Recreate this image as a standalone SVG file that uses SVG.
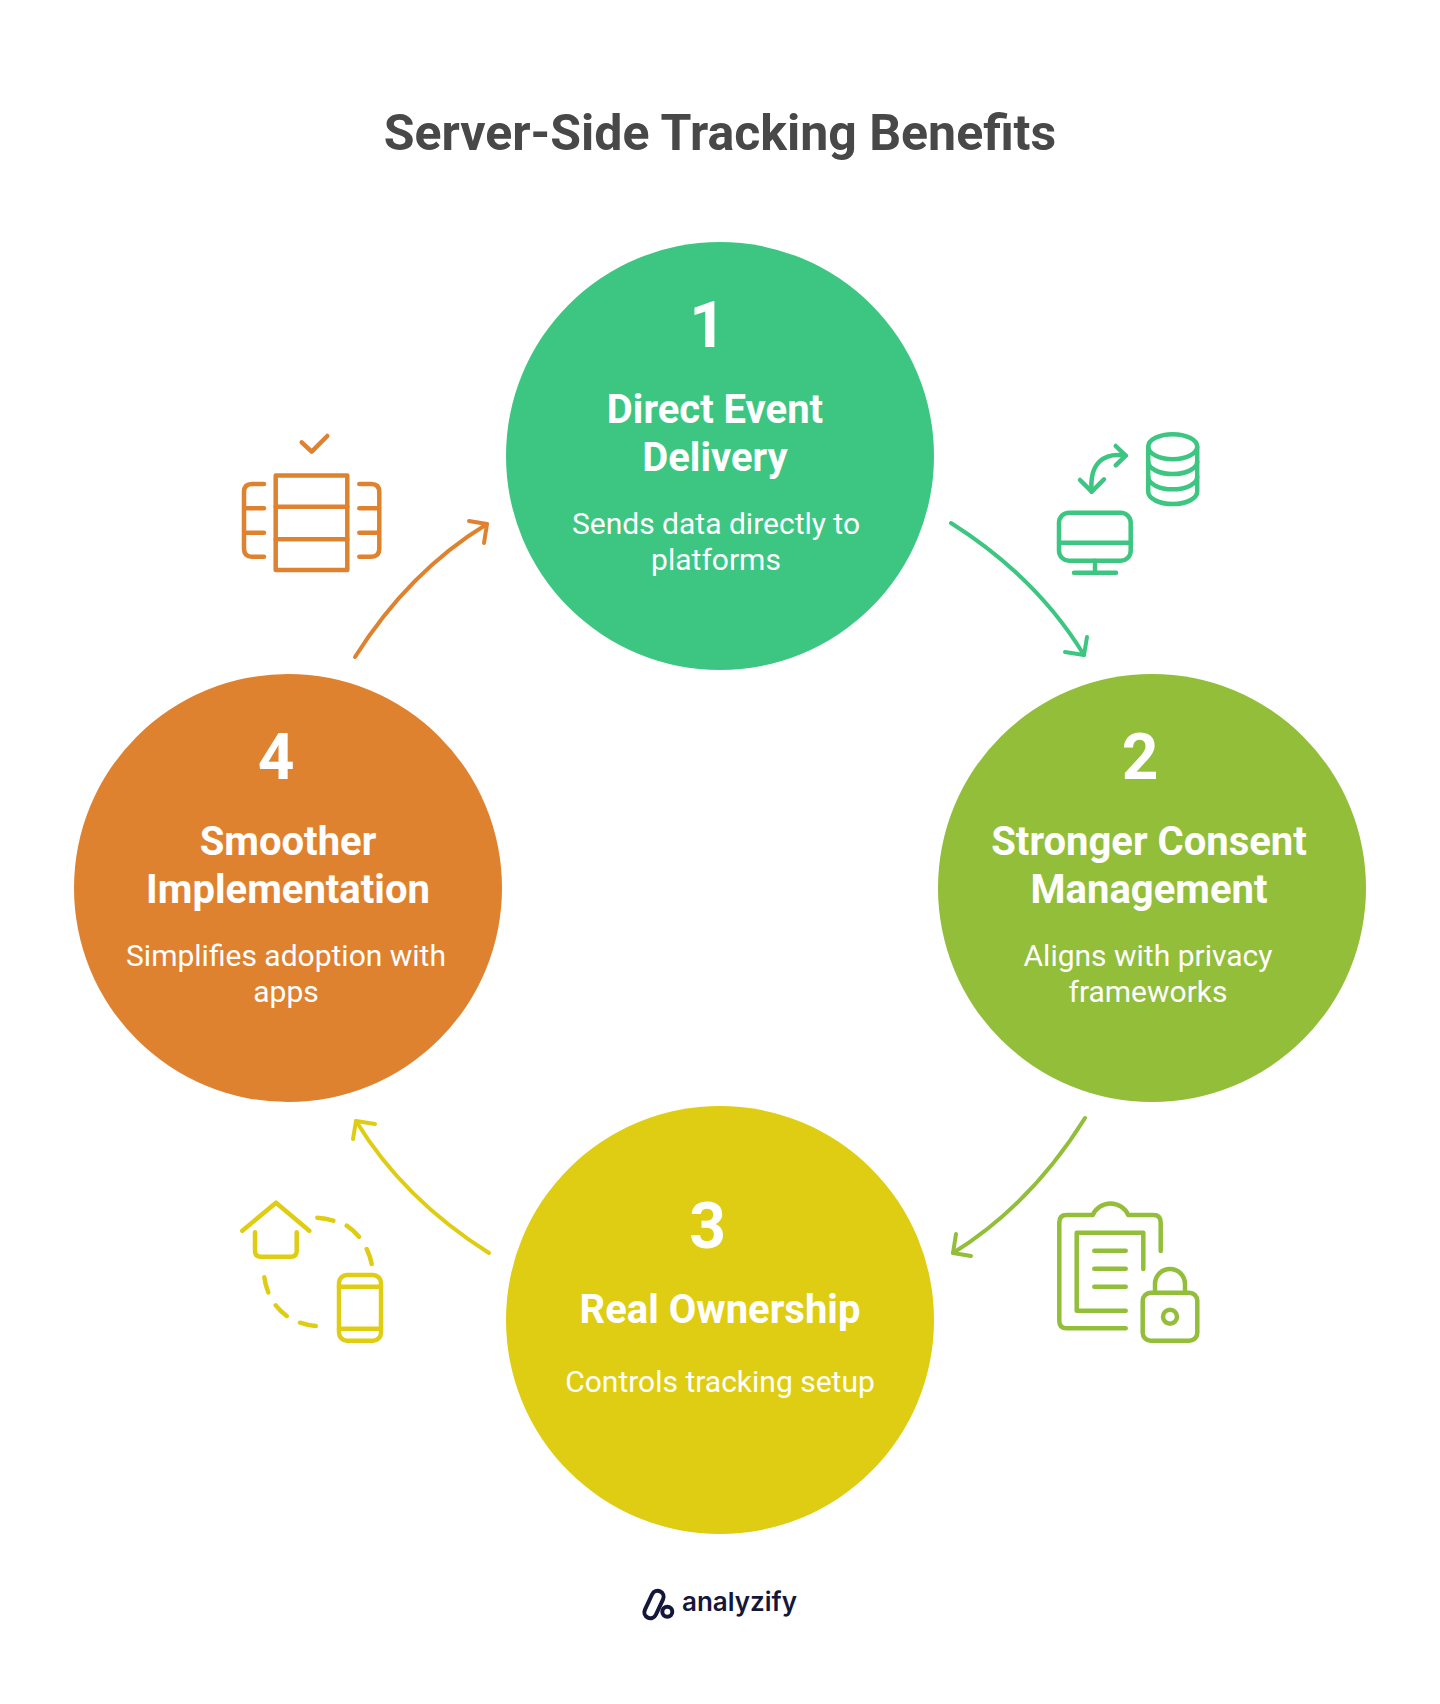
<svg xmlns="http://www.w3.org/2000/svg" width="1440" height="1704" viewBox="0 0 1440 1704">
<style>
text{font-family:Roboto,"Liberation Sans",sans-serif;text-anchor:middle}
.t{font-size:50px;font-weight:700;fill:#484848}
.n{font-size:64px;font-weight:700;fill:#fff}
.h{font-size:40px;font-weight:700;fill:#fff}
.b{font-size:30px;font-weight:400;fill:#fff}
.i,.c{fill:none;stroke-linecap:round;stroke-linejoin:round}
.i{stroke-width:4.500}.c{stroke-width:4}
.green{stroke:#3DC681}.lime{stroke:#92BE3A}.yellow{stroke:#DFCD13}.orange{stroke:#DF8230}
</style>
<rect width="1440" height="1704" fill="#fff"/>
<text class="t" x="720" y="150">Server-Side Tracking Benefits</text>
<g id="connectors">
<g class="c green"><path d="M951 523Q1036.5 577 1084 655"/><path d="M1087 637L1084 655L1065 652"/></g>
<g class="c lime"><path d="M1085 1118Q1031 1204.500 953 1253"/><path d="M971 1256L953 1253L956 1234"/></g>
<g class="c yellow"><path d="M489 1253Q403.500 1199 356 1121"/><path d="M353 1139L356 1121L375 1124"/></g>
<g class="c orange"><path d="M355 657Q409 571.500 487 524"/><path d="M469 521L487 524L484 543"/></g>
</g>
<g id="node-1">
<circle cx="720" cy="456" r="214" fill="#3DC681"/>
<text class="n" x="707.500" y="347">1</text>
<text class="h" x="715" y="423">Direct Event</text>
<text class="h" x="715" y="471">Delivery</text>
<text class="b" x="716" y="534">Sends data directly to</text>
<text class="b" x="716" y="570">platforms</text>
</g>
<g id="node-2">
<circle cx="1152" cy="888" r="214" fill="#92BE3A"/>
<text class="n" x="1140" y="779">2</text>
<text class="h" x="1149" y="855">Stronger Consent</text>
<text class="h" x="1149" y="903">Management</text>
<text class="b" x="1148" y="966">Aligns with privacy</text>
<text class="b" x="1148" y="1002">frameworks</text>
</g>
<g id="node-3">
<circle cx="720" cy="1320" r="214" fill="#DFCD13"/>
<text class="n" x="707.500" y="1248">3</text>
<text class="h" x="720" y="1323">Real Ownership</text>
<text class="b" x="720" y="1392">Controls tracking setup</text>
</g>
<g id="node-4">
<circle cx="288" cy="888" r="214" fill="#DF8230"/>
<text class="n" x="276" y="779">4</text>
<text class="h" x="288" y="855">Smoother</text>
<text class="h" x="288" y="903">Implementation</text>
<text class="b" x="286" y="966">Simplifies adoption with</text>
<text class="b" x="286" y="1002">apps</text>
</g>
<g id="icon-1" class="i green">
<ellipse cx="1172.700" cy="446.700" rx="24.500" ry="12.500"/>
<path d="M1148.200 446.700V491.500C1148.200 498.500 1159 504 1172.700 504S1197.200 498.500 1197.200 491.500V446.700"/>
<path d="M1148.200 461.500C1148.200 468.500 1159 474 1172.700 474S1197.200 468.500 1197.200 461.500"/>
<path d="M1148.200 476.800C1148.200 483.800 1159 489.300 1172.700 489.300S1197.200 483.800 1197.200 476.800"/>
<rect x="1059" y="512.700" width="71.700" height="48" rx="10"/>
<path d="M1059 542.700H1130.700M1095 560.700V572.700M1074 572.700H1116"/>
<path d="M1125.700 455.700C1105 452 1089 462 1091.700 491.700"/>
<path d="M1115.700 446L1125.700 455.700L1115.700 465.300M1080 480L1091.700 491.700L1104 479.300"/>
</g>
<g id="icon-2" class="i lime">
<path d="M1160.700 1251V1222.500Q1160.700 1215 1153.300 1215H1128.300A19.500 19.500 0 0 0 1092.700 1215H1066.700Q1059.300 1215 1059.300 1222.500V1321Q1059.300 1328.300 1066.700 1328.300H1125.700"/>
<path d="M1125.700 1310.700H1076.700V1232.700H1143.300V1269"/>
<path d="M1094.300 1250.700H1125.700M1094.300 1268.700H1125.700M1094.300 1286.700H1125.700"/>
<rect x="1142.700" y="1292.700" width="54.600" height="48" rx="8"/>
<path d="M1155 1292V1284A15 15 0 0 1 1185 1284V1292"/>
<circle cx="1170" cy="1316.700" r="7"/>
</g>
<g id="icon-3" class="i yellow">
<path d="M242.300 1230.700L276 1202.700L309.300 1230.700"/>
<path d="M255 1232.300V1251Q255 1256.700 261 1256.700H291Q296.700 1256.700 296.700 1251V1232.300"/>
<rect x="339" y="1275" width="42" height="65.700" rx="8"/>
<path d="M339 1286.700H381M339 1328.700H381"/>
<path d="M317.300 1217.700A60 60 0 0 1 333.300 1220.700M346.700 1225.700A60 60 0 0 1 359 1236.700M366.700 1249A60 60 0 0 1 371.700 1264M264.300 1277.300A60 60 0 0 0 268.300 1292.300M275.700 1305.300A60 60 0 0 0 286.700 1316M300 1322.700A60 60 0 0 0 315.700 1326"/>
</g>
<g id="icon-4" class="i orange">
<path d="M301.700 442.300L311.700 451.700L327.300 436"/>
<rect x="275.700" y="475.500" width="71.600" height="94.500"/>
<path d="M275.700 506.700H347.300M275.700 539.300H347.300"/>
<path d="M264 484H252Q244 484 244 492V548.700Q244 556.700 252 556.700H264M244 508.300H264M244 532.700H264"/>
<path d="M359.300 484H371.300Q379.300 484 379.300 492V548.700Q379.300 556.700 371.300 556.700H359.300M359.300 508.300H379.300M359.300 532.700H379.300"/>
</g>
<g id="logo">
<rect x="648" y="1590" width="12" height="29" rx="6" transform="rotate(25 654 1604.500)" fill="none" stroke="#14173A" stroke-width="4"/>
<circle cx="667.300" cy="1611.700" r="5" fill="none" stroke="#14173A" stroke-width="4"/>
<text x="739.500" y="1610.700" style="font-family:Inter,sans-serif;font-size:26px;font-weight:600;fill:#14173A">analyzify</text>
</g>
</svg>
